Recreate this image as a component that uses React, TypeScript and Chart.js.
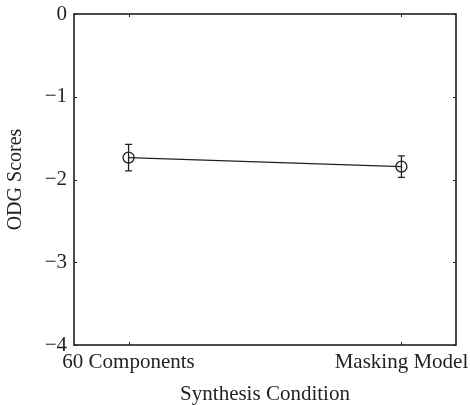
import React, { useEffect, useRef } from "react";
import { Chart, registerables } from "chart.js";

Chart.register(...registerables);

const categories = ["60 Components", "Masking Model"];
const means = [-1.735, -1.845];
const errors = [0.16, 0.13];
const yTicks = [0, -1, -2, -3, -4];

const FONT = "'Liberation Serif', 'Times New Roman', serif";
const INK = "#231f20";

const framePlugin = {
  id: "frameAndErrors",
  afterDatasetsDraw(chart: any) {
    const ctx = chart.ctx;
    const x = chart.scales.x;
    const y = chart.scales.y;
    ctx.save();
    ctx.strokeStyle = INK;
    ctx.lineWidth = 1.3;
    means.forEach((m, i) => {
      const px = x.getPixelForValue(i);
      const top = y.getPixelForValue(m + errors[i]);
      const bot = y.getPixelForValue(m - errors[i]);
      ctx.beginPath();
      ctx.moveTo(px, top);
      ctx.lineTo(px, bot);
      ctx.moveTo(px - 3.5, top);
      ctx.lineTo(px + 3.5, top);
      ctx.moveTo(px - 3.5, bot);
      ctx.lineTo(px + 3.5, bot);
      ctx.stroke();
    });
    ctx.restore();
  },
  afterDraw(chart: any) {
    const ctx = chart.ctx;
    const a = chart.chartArea;
    const x = chart.scales.x;
    const y = chart.scales.y;
    ctx.save();
    ctx.strokeStyle = INK;
    ctx.lineWidth = 1.6;
    ctx.strokeRect(a.left, a.top, a.right - a.left, a.bottom - a.top);
    ctx.lineWidth = 1;
    const tl = 3;
    categories.forEach((_, i) => {
      const px = Math.round(x.getPixelForValue(i)) + 0.5;
      ctx.beginPath();
      ctx.moveTo(px, a.bottom);
      ctx.lineTo(px, a.bottom - tl);
      ctx.moveTo(px, a.top);
      ctx.lineTo(px, a.top + tl);
      ctx.stroke();
    });
    yTicks.forEach((v) => {
      const py = Math.round(y.getPixelForValue(v)) + 0.5;
      ctx.beginPath();
      ctx.moveTo(a.left, py);
      ctx.lineTo(a.left + tl, py);
      ctx.moveTo(a.right, py);
      ctx.lineTo(a.right - tl, py);
      ctx.stroke();
    });
    ctx.restore();
  },
};

export default function App() {
  const ref = useRef<HTMLCanvasElement | null>(null);
  useEffect(() => {
    document.body.style.margin = "0";
    if (!ref.current) return;
    const chart = new Chart(ref.current, {
      type: "line",
      data: {
        datasets: [
          {
            data: means.map((m, i) => ({ x: i, y: m })),
            borderColor: INK,
            borderWidth: 1.3,
            pointStyle: "circle",
            pointRadius: 5.5,
            pointBorderWidth: 1.3,
            pointBorderColor: INK,
            pointBackgroundColor: "rgba(0,0,0,0)",
            fill: false,
            tension: 0,
          },
        ],
      },
      options: {
        animation: false,
        responsive: false,
        maintainAspectRatio: false,
        layout: { padding: { top: 14, right: 14, left: 4, bottom: 0 } },
        plugins: {
          legend: { display: false },
          tooltip: { enabled: false },
        },
        scales: {
          x: {
            type: "linear",
            min: -0.2,
            max: 1.2,
            afterBuildTicks: (s: any) => {
              s.ticks = categories.map((_, i) => ({ value: i }));
            },
            afterFit: (s: any) => {
              s.height = 60;
              s.paddingLeft = 0;
              s.paddingRight = 0;
            },
            ticks: {
              autoSkip: false,
              maxRotation: 0,
              padding: 5,
              color: INK,
              font: { family: FONT, size: 21 },
              callback: (v: any) => categories[Number(v)] ?? "",
            },
            grid: { display: false, drawTicks: false, tickLength: 0 },
            border: { display: false },
            title: {
              display: true,
              text: "Synthesis Condition",
              color: INK,
              font: { family: FONT, size: 21, lineHeight: 1 },
              padding: { top: 0, bottom: 0 },
            },
          },
          y: {
            type: "linear",
            min: -4,
            max: 0,
            afterBuildTicks: (s: any) => {
              s.ticks = yTicks.map((v) => ({ value: v }));
            },
            afterFit: (s: any) => {
              s.width = 70;
              s.paddingTop = 0;
              s.paddingBottom = 0;
            },
            ticks: {
              padding: 7,
              color: INK,
              font: { family: FONT, size: 21 },
              callback: (v: any) => String(v).replace("-", "\u2212"),
            },
            grid: { display: false, drawTicks: false, tickLength: 0 },
            border: { display: false },
            title: {
              display: true,
              text: "ODG Scores",
              color: INK,
              font: { family: FONT, size: 20 },
              padding: { top: 0, bottom: 0 },
            },
          },
        },
      },
      plugins: [framePlugin],
    });
    return () => chart.destroy();
  }, []);
  return (
    <div style={{ position: "absolute", left: 0, top: 0, width: 470, height: 405 }}>
      <canvas ref={ref} width={470} height={405} />
    </div>
  );
}
